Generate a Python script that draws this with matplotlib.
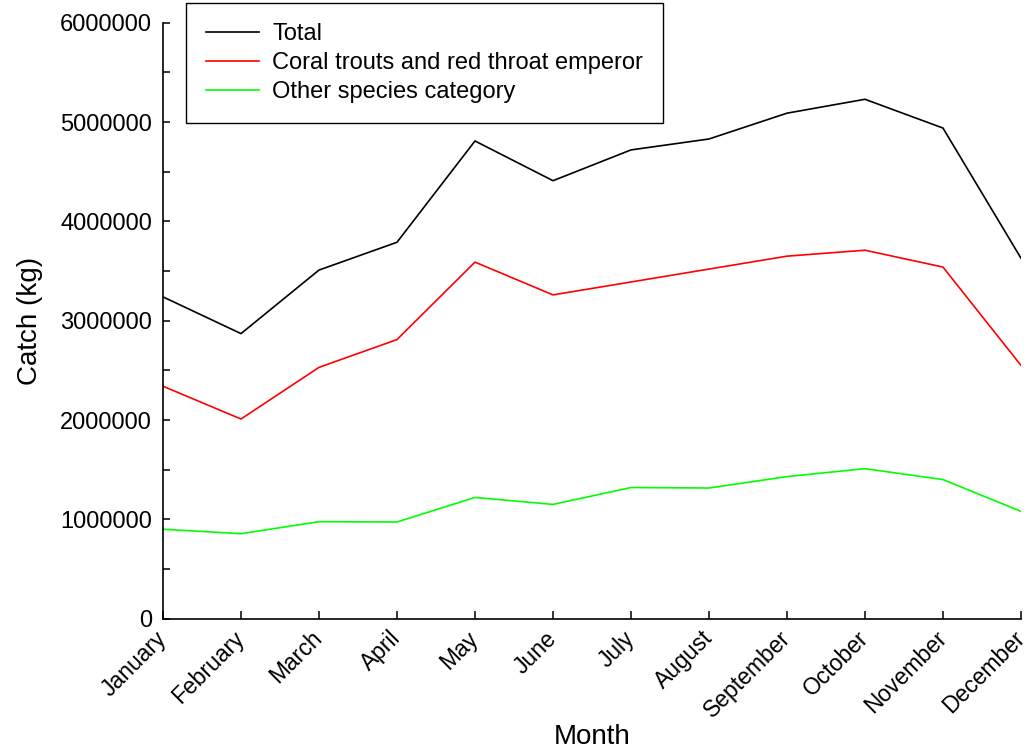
import matplotlib
matplotlib.use("Agg")
import matplotlib.pyplot as plt
from matplotlib.transforms import ScaledTranslation

plt.rcParams['font.family'] = ['Liberation Sans', 'DejaVu Sans']

months = ["January", "February", "March", "April", "May", "June", "July",
          "August", "September", "October", "November", "December"]
total = [3240000, 2870000, 3510000, 3790000, 4810000, 4410000, 4720000,
         4830000, 5090000, 5230000, 4940000, 3630000]
coral_trout_rte = [2340000, 2010000, 2530000, 2810000, 3590000, 3260000, 3390000,
                   3520000, 3650000, 3710000, 3540000, 2550000]
other_species = [900000, 855000, 976000, 973000, 1220000, 1150000, 1320000,
                 1315000, 1430000, 1510000, 1400000, 1080000]
series_names = ["Total", "Coral trouts and red throat emperor", "Other species category"]
y_major = [0, 1000000, 2000000, 3000000, 4000000, 5000000, 6000000]
y_minor = [500000, 1500000, 2500000, 3500000, 4500000, 5500000]

fig = plt.figure(figsize=(10.29, 7.48), dpi=100)
ax = fig.add_axes([0.1584, 0.173, 0.8338, 0.7965])

x = list(range(len(months)))
ax.plot(x, total, color="black", lw=1.2, label=series_names[0])
ax.plot(x, coral_trout_rte, color="#ff0000", lw=1.2, label=series_names[1])
ax.plot(x, other_species, color="#00ff00", lw=1.2, label=series_names[2])

ax.set_xlim(0, len(months) - 1)
ax.set_ylim(0, 6000000)

for side in ("top", "right"):
    ax.spines[side].set_visible(False)
for side in ("left", "bottom"):
    ax.spines[side].set_linewidth(1.2)

ax.set_yticks(y_major)
ax.set_yticklabels([str(v) for v in y_major])
ax.set_yticks(y_minor, minor=True)
ax.tick_params(axis="y", which="both", direction="in", length=5, width=1.1,
               labelsize=17, pad=8)
ax.set_xticks(x)
# month names hang from their baseline end, rotated 45 degrees
ax.set_xticklabels(months, rotation=45, ha="right", va="baseline",
                   rotation_mode="anchor")
ax.tick_params(axis="x", direction="in", length=6, width=1.1, labelsize=16.5, pad=15)
for lbl in ax.get_xticklabels():
    lbl.set_transform(lbl.get_transform() +
                      ScaledTranslation(0.045, 0, fig.dpi_scale_trans))

ax.set_xlabel("Month", fontsize=20, labelpad=1)
ax.set_ylabel("Catch (kg)", fontsize=20, labelpad=12)

leg = ax.legend(loc="upper left", bbox_to_anchor=(186 / 1029, 1 - 3 / 748),
                bbox_transform=fig.transFigure, borderaxespad=0, fontsize=17,
                fancybox=False, framealpha=1, edgecolor="black",
                handlelength=2.25, handletextpad=0.55, labelspacing=0.3,
                borderpad=0.85)
leg.get_frame().set_linewidth(1.0)

fig.savefig("out.png", dpi=100)
